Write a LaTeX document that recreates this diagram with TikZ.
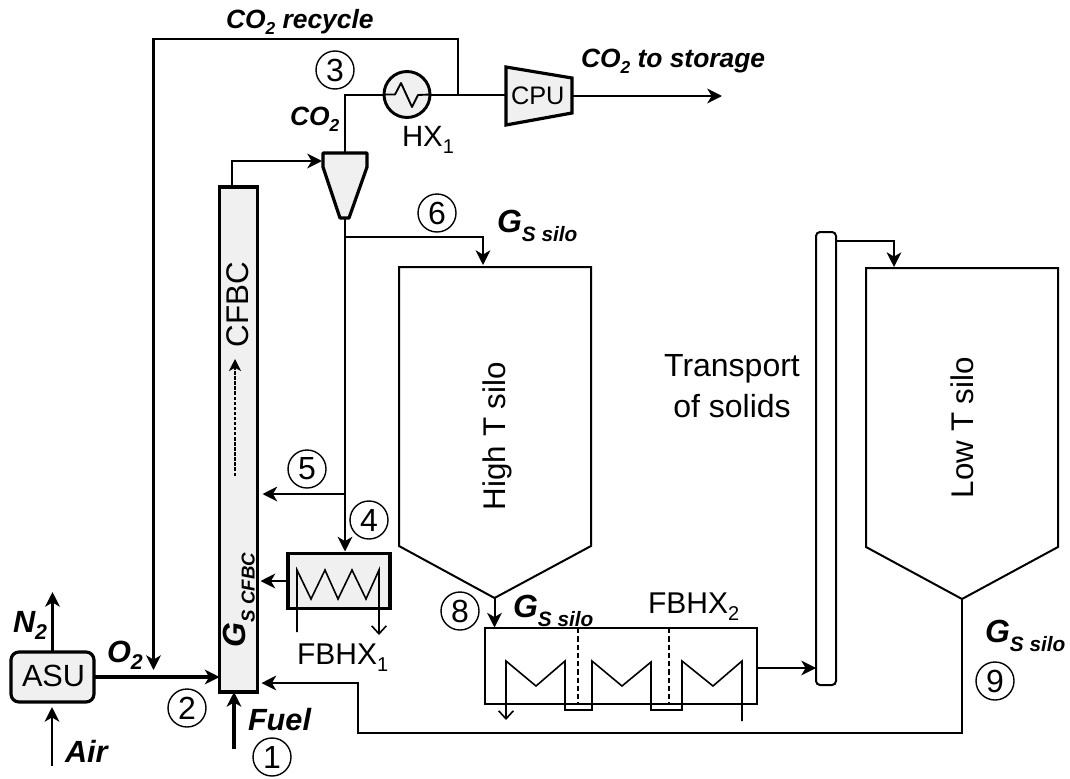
\documentclass[tikz,border=0pt]{standalone}
\usepackage{fontspec}
\setmainfont{Liberation Sans}
\usetikzlibrary{arrows.meta,calc}
\definecolor{boxgray}{HTML}{F0F0F0}
\newcommand{\fz}[1]{\fontsize{#1}{#1}\selectfont}
\newcommand{\subs}[3][0.24]{\raisebox{-#1em}{\fz{#2}#3}}
\newcommand{\bi}{\bfseries\itshape}
\newcommand{\Gsilo}{{\fz{24}\bi G\subs[0.3]{15.6}{S silo}}}
\newcommand{\COtwo}{{\fz{19.8}\bi CO\subs{13}{2}}}
\tikzset{
  heavy/.style={line width=2.4pt,draw=black},
  mainline/.style={line width=2.2pt,draw=black},
  slim/.style={line width=1.5pt,draw=black},
  thinl/.style={line width=1.2pt,draw=black},
  tip/.style={-{Stealth[length=11pt,width=11pt,inset=3.2pt]}},
  tipb/.style={-{Straight Barb[length=6pt,width=11pt]}},
  box/.style={rectangle,inner sep=0pt,outer sep=0pt,fill=boxgray,heavy},
  lab/.style={anchor=base west,inner sep=0pt,outer sep=0pt,text=black},
  vlab/.style={anchor=base west,inner sep=0pt,outer sep=0pt,rotate=90,text=black},
  num/.style={circle,draw=black,line width=1.05pt,minimum size=28.5pt,inner sep=0pt,font=\fz{24}},
}
\begin{document}
\begin{tikzpicture}[x=0.75pt,y=-0.75pt,line join=miter]
\useasboundingbox (0,0) rectangle (1070,778);
% --- equipment
\node[box,minimum width=28.5pt,minimum height=378.75pt] (cfbc) at (238.5,439.5) {};
\node[box,rounded corners=6pt,minimum width=62.25pt,minimum height=37.5pt] (asu) at (52.5,677) {};
\node[box,minimum width=76.5pt,minimum height=41.25pt] (fbhx1) at (339,581) {};
\node[rectangle,draw=black,line width=1.7pt,inner sep=0pt,outer sep=0pt,minimum width=204pt,minimum height=57pt] (fbhx2) at (621,666) {};
\node[rectangle,rounded corners=3pt,slim,inner sep=0pt,outer sep=0pt,minimum width=15pt,minimum height=339.75pt] (tube) at (826,458.5) {};
% named points of the drawn shapes
\coordinate (cycin) at (322,161);
\coordinate (cyctop) at (345,153);
\coordinate (cycbot) at (345,218);
\coordinate (cpul) at (506,95);
\coordinate (cpur) at (572,96);
\coordinate (hitip) at (494.5,598);
\coordinate (hitop) at (483,265);
\coordinate (lotip) at (962,599);
\coordinate (lotop) at (894,267);
\coordinate (split6) at (345,237);
\coordinate (split5) at (345,494);
\coordinate (split3) at (458,95);
\coordinate (corner) at (345,95);
% connectors under the shapes
\draw[mainline] (cyctop) -- (corner) -- (cpul);
\draw[mainline,tip] (cpur) -- (722,96);
\draw[mainline,tip] (split3) -- (458,39) -- (153.5,39) -- (153.5,670);
\draw[mainline,tip] (cycbot) -- ($(fbhx1.north -| cycbot)+(0,-2)$);
\draw[mainline,tip] (split5) -- ($(cfbc.east |- split5)+(5,0)$);
\draw[slim,line width=1.6pt,tip] (split6) -| (hitop);
\draw[mainline,tip] (cfbc.north -| 232,0) |- (cycin);
\draw[heavy,tip] (asu.east |- 0,677) -- ($(cfbc.west |- 0,677)$);
\draw[mainline,tip] (asu.north) -- ++(0,-60);
\coordinate (airin) at (52,766);
\draw[mainline,tip] (airin) -- ($(asu.south)+(-.5,5)$);
\coordinate (fuelin) at (234,749);
\draw[heavy,tip] (fuelin) -- (cfbc.south -| fuelin);
\draw[mainline,tip] (fbhx1.west) -- ($(fbhx1.west -| cfbc.east)+(3,0)$);
\draw[slim,tip] (hitip) -- ($(fbhx2.north -| hitip)+(0,-.5)$);
\draw[slim,tip] (fbhx2.east |- 0,668) -- (tube.west |- 0,668);
\draw[slim,tip] (tube.east |- 0,241) -| (lotop);
\draw[slim,tip] (lotip) -- (962,733) -- (358,733) -- (358,683) -- ($(cfbc.east |- 0,683)+(4,0)$);
% cyclone
\draw[box,line join=round] (323,153) -- (367,153) -- (367,167) -- (349,218) -- (340,218) -- (323,167) -- cycle;
% CPU
\draw[box] (506,67) -- (572,78) -- (572,113) -- (506,125) -- cycle;
% heat exchanger 1
\node[circle,fill=boxgray,mainline,inner sep=0pt,outer sep=0pt,minimum size=34.5pt] (hx) at (407,94.5) {};
\draw[line width=1.4pt,line join=round] (hx.west) -- (395,94.5) -- (401,83) -- (412,107) -- (418,95) -- (hx.east);
% silos
\draw[line width=1.5pt] (399,267) -- (591,267) -- (591,546) -- (hitip) -- (399,546) -- cycle;
\draw[line width=1.5pt] (866,268) -- (1058,268) -- (1058,547) -- (lotip) -- (866,547) -- cycle;
% coils
\draw[thinl,tipb] (297,632) -- (297,570) -- (311,599) -- (325,570) -- (338,599) -- (352,570) -- (366,599) -- (379,570) -- (379,635);
\draw[thinl,tipb] (742,721) -- (742,661) -- (713,686) -- (682,661) -- (682,710) -- (651,710) -- (651,662) -- (622,686) -- (592,661) -- (592,710) -- (565,710) -- (565,661) -- (536,686) -- (506,661) -- (506,720);
\draw[line width=1.3pt,dash pattern=on 4pt off 2.2pt] (578,628) -- (578,704);
\draw[line width=1.3pt,dash pattern=on 4pt off 2.2pt] (669,628) -- (669,704);
% dashed flow arrow in riser
\coordinate (flowa) at (235,476);
\coordinate (flowb) at (235,359);
\draw[line width=1pt,dash pattern=on 2.6pt off 1.2pt,-{Stealth[length=9pt,width=9pt,inset=2.4pt]}] (flowa) -- (flowb);
% --- labels
\node[lab,font=\fz{23}] (lasu) at (22,686) {ASU};
\node[lab,font=\fz{19}] (lcpu) at (511,104) {CPU};
\node[lab,font=\fz{22.5}] (lf1) at (297,664) {FBHX\subs{15}{1}};
\node[lab,font=\fz{22.5}] (lf2) at (648,613) {FBHX\subs{15}{2}};
\node[lab,font=\fz{22}] (lhx) at (402,146) {HX\subs{15}{1}};
\node[vlab,font=\fz{23.5}] (lcfbc) at (248,347) {CFBC};
\node[vlab,font=\fz{23.5}] (lhi) at (505,510) {High T silo};
\node[vlab,font=\fz{23.5}] (llo) at (973,498) {Low T silo};
\node[lab,font=\fz{24},anchor=base] (ltr) at (732,376) {Transport};
\node[lab,font=\fz{24},anchor=base] (ltr2) at (732,417) {of solids};
\node[vlab] (lgc) at (245,647) {\fz{24}\bi G\subs[0.3]{14}{S CFBC}};
\node[lab] (lr) at (226,28) {\COtwo{\fz{19.8}\bi{} recycle}};
\node[lab] (ls) at (581,67) {\COtwo{\fz{19.8}\bi{} to storage}};
\node[lab] (lc) at (290,125) {\COtwo};
\node[lab] (lg6) at (497,232) {\Gsilo};
\node[lab] (lg8) at (513,617) {\Gsilo};
\node[lab] (lg9) at (985,642) {\Gsilo};
\node[lab,font=\fz{23}\bi] (lo2) at (107,662) {O\subs{16}{2}};
\node[lab,font=\fz{23}\bi] (ln2) at (13,632) {N\subs{16}{2}};
\node[lab,font=\fz{23}\bi] (lair) at (65,762) {Air};
\node[lab,font=\fz{23}\bi] (lfuel) at (248,730) {Fuel};
\node[num] (n1) at (272,757) {1};
\node[num] (n2) at (187,708) {2};
\node[num] (n3) at (335,70) {3};
\node[num] (n4) at (369,520) {4};
\node[num] (n5) at (307,469) {5};
\node[num] (n6) at (437,213) {6};
\node[num] (n8) at (460,611) {8};
\node[num] (n9) at (995,681) {9};
\end{tikzpicture}
\end{document}
